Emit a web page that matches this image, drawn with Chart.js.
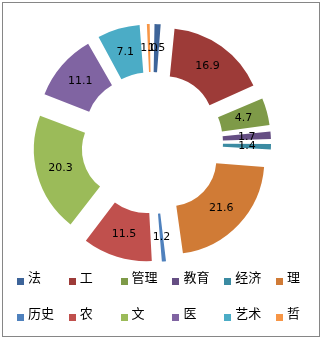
<!DOCTYPE html>
<html>
<head>
<meta charset="utf-8">
<script src="https://cdn.jsdelivr.net/npm/chart.js@4/dist/chart.umd.min.js"></script>
<style>
  body { margin: 0; background: #fff; }
  #wrap { position: relative; width: 323px; height: 340px; }
  #frame { position: absolute; left: 2px; top: 2px; width: 316px; height: 333px; border: 1px solid #868686; }
  #pie { position: absolute; left: 0; top: 0; }
  .item { position: absolute; height: 20px; width: 52px; font: 13px "Noto Sans CJK SC", sans-serif; color: #000; }
  .item .box { position: absolute; left: 0; top: 10px; width: 7px; height: 7px; }
  .item .txt { position: absolute; left: 11px; top: 0; line-height: 18px; white-space: nowrap; }
</style>
</head>
<body>
<div id="wrap">
  <div id="frame"></div>
  <canvas id="pie" width="304" height="286"></canvas>
  <div id="legend"></div>
</div>
<script>
const categories = ['法', '工', '管理', '教育', '经济', '理', '历史', '农', '文', '医', '艺术', '哲'];
const values = [1.5, 16.9, 4.7, 1.7, 1.4, 21.6, 1.2, 11.5, 20.3, 11.1, 7.1, 1.0];
const colors = ['#3D6499', '#9D3B38', '#7E9A48', '#654E83', '#3B8BA2', '#D07B36',
                '#4F81BD', '#C0504D', '#9BBB59', '#8064A2', '#4BACC6', '#F79646'];

const explode = 25; // px each slice is pulled out
const total = values.reduce((a, b) => a + b, 0);

// chart.js moves a slice by offset/4 * (1 + fix); undo that so every slice moves the same distance
function sliceOffset(ctx) {
  const circ = ctx.dataset.data[ctx.dataIndex] / total * Math.PI * 2;
  return explode * 4 / (2 - Math.sin(Math.min(Math.PI, circ)));
}

const valueLabels = {
  id: 'valueLabels',
  afterDatasetsDraw(chart) {
    const ctx = chart.ctx;
    const meta = chart.getDatasetMeta(0);
    ctx.save();
    ctx.font = '11px "DejaVu Sans", sans-serif';
    ctx.fillStyle = '#000';
    ctx.textAlign = 'center';
    ctx.textBaseline = 'middle';
    meta.data.forEach((arc, i) => {
      const mid = (arc.startAngle + arc.endAngle) / 2;
      const r = (arc.innerRadius + arc.outerRadius) / 2 + explode;
      ctx.fillText(values[i].toFixed(1), arc.x + Math.cos(mid) * r, arc.y + Math.sin(mid) * r);
    });
    ctx.restore();
  }
};

new Chart(document.getElementById('pie'), {
  type: 'doughnut',
  data: {
    labels: categories,
    datasets: [{
      data: values,
      backgroundColor: colors,
      borderWidth: 0,
      offset: sliceOffset
    }]
  },
  options: {
    responsive: false,
    animation: false,
    radius: 94,
    cutout: 46,
    layout: { padding: 0 },
    plugins: {
      legend: { display: false },
      tooltip: { enabled: false }
    }
  },
  plugins: [valueLabels]
});

// legend: 2 rows x 6 columns
const legend = document.getElementById('legend');
categories.forEach((name, i) => {
  const col = i % 6, row = Math.floor(i / 6);
  const item = document.createElement('div');
  item.className = 'item';
  item.style.left = (17 + col * 51.8) + 'px';
  item.style.top = (268 + row * 36) + 'px';
  item.innerHTML = '<span class="box" style="background:' + colors[i] + '"></span><span class="txt">' + name + '</span>';
  legend.appendChild(item);
});
</script>
</body>
</html>
